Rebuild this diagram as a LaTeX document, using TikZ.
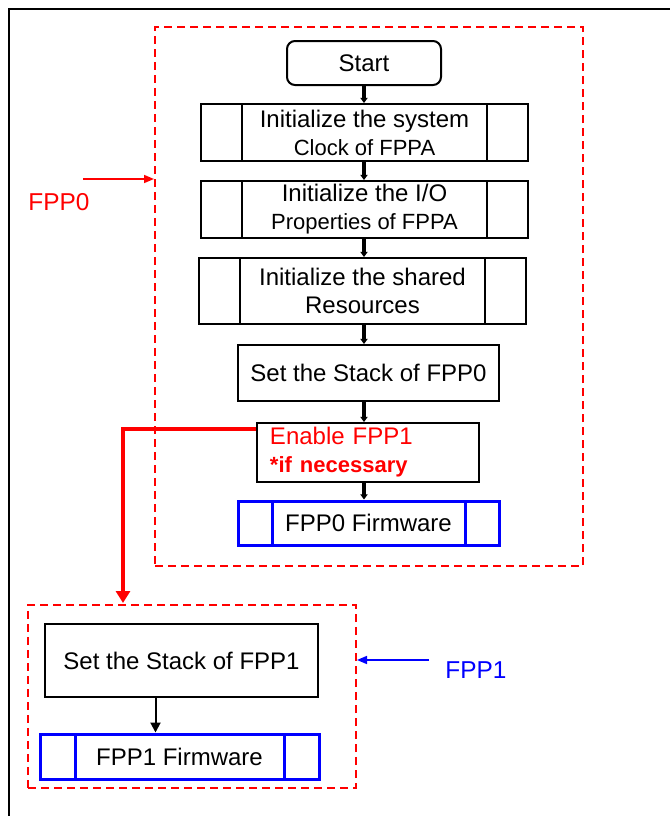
\documentclass[tikz,border=0pt]{standalone}
\usepackage{fontspec}
\setmainfont{Liberation Sans}
\usetikzlibrary{arrows.meta,positioning}
\tikzset{
  base/.style={draw, line width=1pt, inner sep=0pt, align=center,
    font=\fontsize{12}{14}\selectfont},
  startbox/.style={base, rounded corners=4pt, minimum width=77pt, minimum height=22pt},
  proc/.style={base, fill=white},
  subproc/.style={proc, path picture={
      \draw[line width=1pt] ([xshift=#1]path picture bounding box.north west)
        -- ([xshift=#1]path picture bounding box.south west);
      \draw[line width=1pt] ([xshift=-#1]path picture bounding box.north east)
        -- ([xshift=-#1]path picture bounding box.south east);}},
  firmware/.style={proc, draw=blue, line width=1.5pt, path picture={
      \draw[blue, line width=1.5pt] ([xshift=#1]path picture bounding box.north west)
        -- ([xshift=#1]path picture bounding box.south west);
      \draw[blue, line width=1.5pt] ([xshift=-#1]path picture bounding box.north east)
        -- ([xshift=-#1]path picture bounding box.south east);}},
  group/.style={draw=red, line width=1pt, dash pattern=on 4pt off 2.5pt, inner sep=0pt},
  flow/.style={-{Triangle[length=2.6pt, width=3.6pt]}, line width=1.7pt},
  thin flow/.style={-{Triangle[length=5pt, width=5pt]}, line width=1pt},
  enable flow/.style={-{Triangle[length=6pt, width=7pt]}, line width=2pt, red},
  label arrow/.style={-{Triangle[length=5pt, width=4pt]}, line width=0.8pt},
  tag/.style={font=\fontsize{12.2}{14}\selectfont},
}

\begin{document}
\begin{tikzpicture}[x=0.5pt, y=-0.5pt]
  \useasboundingbox (0,0) rectangle (670,816);

  % Frame
  \draw[line width=1.4pt] (9,816) -- (9,9) -- (670,9);

  % Groups
  \node[group, minimum width=214pt, minimum height=269.5pt] (grp0) at (369,296.5) {};
  \node[group, minimum width=164pt, minimum height=91.5pt] (grp1) at (192,696.5) {};

  % FPP0 steps
  \node[startbox] (start) at (364,63) {Start};
  \node[subproc=20.5pt, minimum width=163.5pt, minimum height=28.5pt] (sysclk) at (364.5,132.5)
    {Initialize the system\\{\fontsize{11}{14}\selectfont Clock of FPPA}};
  \node[subproc=20.5pt, minimum width=163.5pt, minimum height=28.5pt] (iocfg) at (364.5,209.5)
    {Initialize the I/O\\{\fontsize{11}{14}\selectfont Properties of FPPA}};
  \node[subproc=20.5pt, minimum width=163.5pt, minimum height=33pt] (shared) at (362.5,291)
    {Initialize the shared\\Resources};
  \node[proc, minimum width=130.5pt, minimum height=28pt] (stack0) at (368.5,373)
    {Set the Stack of FPP0};
  \node[proc, minimum width=111pt, minimum height=29.5pt, text width=98pt,
    inner xsep=6.5pt, align=left, text=red] (enable) at (368,452.5)
    {Enable FPP1\\{\fontsize{11}{14}\selectfont\bfseries *if necessary}};
  \node[firmware=17pt, minimum width=130.5pt, minimum height=22pt] (fw0) at (368.5,523)
    {FPP0 Firmware};

  % FPP1 steps
  \node[proc, minimum width=136.5pt, minimum height=36.5pt] (stack1) at (181.5,660.5)
    {Set the Stack of FPP1};
  \node[firmware=17.5pt, minimum width=139.5pt, minimum height=22.5pt] (fw1) at (179.5,756.5)
    {FPP1 Firmware};

  % Flow
  \draw[flow] (start.south) -- (start.south |- sysclk.north);
  \draw[flow] (start.south |- sysclk.south) -- (start.south |- iocfg.north);
  \draw[flow] (start.south |- iocfg.south) -- (start.south |- shared.north);
  \draw[flow] (start.south |- shared.south) -- (start.south |- stack0.north);
  \draw[flow] (start.south |- stack0.south) -- (start.south |- enable.north);
  \draw[flow] (start.south |- enable.south) -- (start.south |- fw0.north);
  \draw[thin flow] ([xshift=-13pt]stack1.south) -- ([xshift=-13pt]stack1.south |- fw1.north);

  % Enable FPP1
  \coordinate (drop) at (123,603);
  \draw[enable flow] ([yshift=-3.5pt]enable.north west) -| (drop);

  % Labels
  \node[tag, text=red] (lbl0) at (59,202) {FPP0};
  \coordinate (tail0) at (83,179);
  \draw[label arrow, red] (tail0) -- (tail0 -| grp0.west);
  \node[tag, text=blue] (lbl1) at (476,670) {FPP1};
  \coordinate (tail1) at (429,660);
  \draw[label arrow, blue] (tail1) -- (tail1 -| grp1.east);
\end{tikzpicture}
\end{document}
